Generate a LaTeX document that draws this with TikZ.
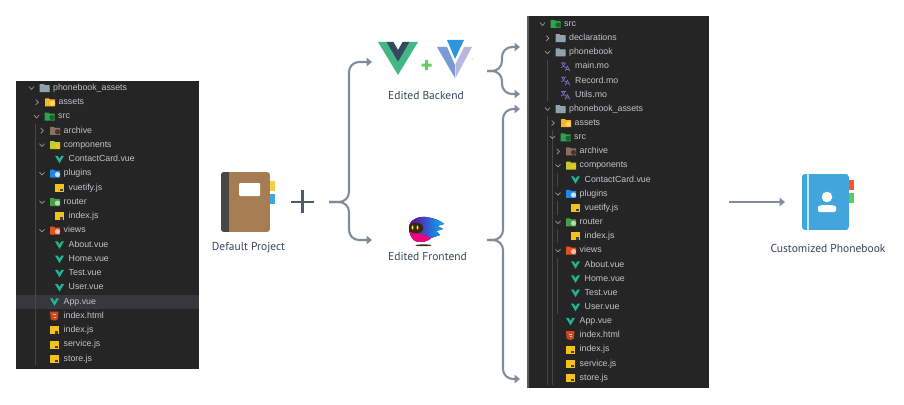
\documentclass[tikz,border=0pt]{standalone}
\usepackage{fontspec}
\usetikzlibrary{arrows.meta}
\newfontfamily\labelfont{PT Sans}
\newfontfamily\treefont{Liberation Sans}
\definecolor{panelbg}{HTML}{252526}
\definecolor{rowhl}{HTML}{37373D}
\definecolor{treetxt}{HTML}{C2C5C9}
\definecolor{guide}{HTML}{47474A}
\definecolor{flow}{HTML}{7F8C9B}
\definecolor{labeltxt}{HTML}{36465A}
\definecolor{vuev}{HTML}{1FB592}
\definecolor{vuegreen}{HTML}{41B883}
\definecolor{vuedark}{HTML}{35495E}
\definecolor{jsyellow}{HTML}{F5C21C}
\definecolor{greyfolder}{HTML}{8FA3AD}
\definecolor{bookbrown}{HTML}{A67C52}
\definecolor{bookblue}{HTML}{42A5DC}
\tikzset{
  treetext/.style={anchor=west,inner sep=0pt,text=treetxt,text height=6.5pt,text depth=2pt,font=\treefont\fontsize{8.8}{9}\selectfont},
  biglabel/.style={inner sep=0pt,text=labeltxt,font=\labelfont\fontsize{11.5}{12}\selectfont},
  flowline/.style={draw=flow,line width=2.1pt,rounded corners=10pt,-{Triangle[length=5.5pt,width=8.5pt]}},
  guideline/.style={draw=guide,line width=.6pt},
  chevline/.style={draw=gray!80,line width=.7pt}
}
% row icons, drawn relative to the left end of the row text
\newcommand{\foldershape}[2]{%
  \fill[#1] (-13.5,-4) -- (-9.5,-4) -- (-8.5,-3) -- (-3.5,-3) -- (-3.5,4) -- (-13.5,4) -- cycle;
  \fill[#2] (-6,1) circle (2.6pt);
}
\definecolor{fassets}{HTML}{F9B91A}
\definecolor{fsrc}{HTML}{2FA24C}
\definecolor{farchive}{HTML}{8D6E63}
\definecolor{fcomp}{HTML}{C0CA33}
\definecolor{fplugins}{HTML}{1E88E5}
\definecolor{frouter}{HTML}{43A047}
\definecolor{fviews}{HTML}{E6501E}
\newcommand{\treeiconplain}{\foldershape{greyfolder}{greyfolder}}
\newcommand{\treeiconassets}{\foldershape{fassets}{fassets!60!white}}
\newcommand{\treeiconsrc}{\foldershape{fsrc}{fsrc!60!black}}
\newcommand{\treeiconarchive}{\foldershape{farchive}{farchive!50!black}}
\newcommand{\treeiconcomp}{\foldershape{fcomp}{jsyellow}}
\newcommand{\treeiconplugins}{\foldershape{fplugins}{fplugins!25!white}}
\newcommand{\treeiconrouter}{\foldershape{frouter}{frouter!40!white}}
\newcommand{\treeiconviews}{\foldershape{fviews}{fviews!35!white}}
\newcommand{\treeiconvue}{\fill[vuev] (-13.5,-3.5) -- (-10.8,-3.5) -- (-9,-.5) -- (-7.2,-3.5) -- (-4.5,-3.5) -- (-9,4) -- cycle;}
\newcommand{\treeiconjs}{\fill[jsyellow] (-13.5,-4) rectangle (-4.5,4);\fill[black!75] (-9,1) rectangle (-8.2,3.2);\fill[black!75] (-7.4,1) rectangle (-5.6,3.2);}
\newcommand{\treeiconhtml}{\fill[fviews!90!black] (-13.5,-4.5) -- (-5,-4.5) -- (-5.8,3.2) -- (-9.2,4.5) -- (-12.7,3.2) -- cycle;\fill[white!70!red] (-11,-2) rectangle (-7.5,-1);\fill[white!70!red] (-10,.5) rectangle (-7.5,1.8);}
\newcommand{\treeiconmo}{\draw[blue!40!gray!80!white,line width=.7pt] (-14,-3.5) -- (-9,-3.5) (-11.8,-4.5) -- (-11.8,-3.5) (-13,-3.5) .. controls (-12.5,-.5) and (-11,.5) .. (-9,1) (-10,-3.5) .. controls (-10.5,-.5) and (-12,.5) .. (-14,1) (-9.8,4.5) -- (-7.6,-.5) -- (-5.2,4.5) (-9,2.8) -- (-6,2.8);}
\newcommand{\chevrono}{\draw[chevline] (-24,-1.3) -- (-21.5,1.3) -- (-19,-1.3);}
\newcommand{\chevronc}{\draw[chevline] (-22.8,-2.6) -- (-20.2,0) -- (-22.8,2.6);}
\newcommand{\chevronn}{}
\newcommand{\srcrows}{%
  564/src/o/src,
  569/plain/c/declarations,
  569/plain/o/phonebook,
  575/mo/n/main.mo,
  575/mo/n/Record.mo,
  575/mo/n/Utils.mo}
\newcommand{\assetrows}{%
  53/plain/o/phonebook\_assets,
  58.5/assets/c/assets,
  58/src/o/src,
  63.5/archive/c/archive,
  63.5/comp/o/components,
  68.5/vue/n/ContactCard.vue,
  63.5/plugins/o/plugins,
  68.5/js/n/vuetify.js,
  63.5/router/o/router,
  68.5/js/n/index.js,
  63.5/views/o/views,
  68.5/vue/n/About.vue,
  68.5/vue/n/Home.vue,
  68.5/vue/n/Test.vue,
  68.5/vue/n/User.vue,
  63.5/vue/n/App.vue,
  63.5/html/n/index.html,
  63.5/js/n/index.js,
  63.5/js/n/service.js,
  63.5/js/n/store.js}
\newcommand{\treerows}[5]{%
  \foreach \tx/\ic/\chev/\txt [count=\i from 0] in #2 {
    \pgfmathsetmacro{\ty}{#4+#5*\i}
    \pgfmathsetmacro{\rx}{\tx+#3}
    \node[treetext] (#1\i) at (\rx,\ty) {\txt};
    \begin{scope}[shift={(\rx,\ty)}]
      \csname treeicon\ic\endcsname
      \csname chevron\chev\endcsname
    \end{scope}
  }}
\begin{document}
\begin{tikzpicture}[x=1pt,y=-1pt]
\useasboundingbox (0,0) rectangle (904,404);
% left tree
\fill[panelbg] (16,81) rectangle (199,369);
\fill[rowhl] (16,295) rectangle (199,309);
\draw[guideline] (35.7,124) -- (35.7,365);
\treerows{left}{\assetrows}{0}{88}{14.26}
% right tree
\fill[panelbg] (527,16) rectangle (709,388);
\fill[gray!60!panelbg] (527,16) rectangle (528.5,388);
\draw[guideline] (547,60) -- (547,101);
\draw[guideline] (547,116) -- (547,385);
\draw[guideline] (552.5,130) -- (552.5,385);
\draw[guideline] (557,173) -- (557,187) (557,201) -- (557,215) (557,229) -- (557,243) (557,258) -- (557,314);
\treerows{top}{\srcrows}{0}{24}{14.2}
\treerows{right}{\assetrows}{516}{109}{14.16}
% default project
\begin{scope}
\clip[rounded corners=3pt] (221,172) rectangle (270,232);
\fill[bookbrown] (221,172) rectangle (270,232);
\fill[black!72] (221,172) rectangle (229,232);
\end{scope}
\fill[white,rounded corners=1pt] (239,183) rectangle (260,196);
\fill[jsyellow!80!white] (270,181) rectangle (275,191);
\fill[bookblue] (270,194) rectangle (275,204);
\node[biglabel] (defaultlabel) at (248.5,248) {Default Project};
\draw[vuedark!90!white,line width=2.4pt] (291,202) -- (314,202) (302.5,190) -- (302.5,213);
% vue + vuetify
\fill[vuegreen] (378,42) -- (386.5,42) -- (398,62) -- (409.5,42) -- (418,42) -- (398,75) -- cycle;
\fill[vuedark] (386.5,42) -- (393.5,42) -- (398,50) -- (402.5,42) -- (409.5,42) -- (398,62) -- cycle;
\fill[green!50!gray!80] (425.2,60) rectangle (428.2,70) (421.7,63.5) rectangle (431.7,66.5);
\fill[cyan!45!blue!55!white] (437,47) -- (447,47) -- (455,65) -- (455,78) -- cycle;
\fill[cyan!20!blue!28!white] (472,47) -- (464,47) -- (455.5,64) -- (455.5,78) -- cycle;
\fill[cyan!70!blue!85!white] (447,40) -- (464,40) -- (455,59) -- cycle;
\fill[gray] (472,59) circle (.5pt);
\node[biglabel] (backendlabel) at (426,95) {Edited Backend};
% kraken
\fill[left color=violet!85!blue,right color=cyan!70!blue] (409,228) .. controls (409,220) and (418,216) .. (426,217) .. controls (433,218) and (440,220) .. (444,224) -- (437,226) -- (443,229) -- (436,231) -- (440,235) -- (431,238) .. controls (428,242) and (420,243) .. (415,241) .. controls (411,238) and (409,233) .. (409,228) -- cycle;
\fill[magenta!85!red] (410,232) .. controls (418,233) and (424,234) .. (431,238) .. controls (428,242) and (420,243) .. (415,241) .. controls (412,239) and (411,235) .. (410,232) -- cycle;
\fill[black!70!brown] (416,228) circle [x radius=7.2pt,y radius=5.4pt];
\fill[yellow] (412.5,227.5) circle [x radius=.9pt,y radius=2.2pt] (417.5,227.5) circle [x radius=.9pt,y radius=2.2pt];
\fill[black!70!brown] (423.5,245.3) ellipse [x radius=8pt,y radius=.9pt];
\node[biglabel] (frontendlabel) at (427.5,256) {Edited Frontend};
% customized phonebook
\begin{scope}
\clip[rounded corners=3pt] (802,174) rectangle (849,230);
\fill[bookblue] (802,174) rectangle (849,230);
\fill[cyan!25!white] (807,174) rectangle (808.6,230);
\end{scope}
\fill[white] (827,197) circle (5.3pt);
\fill[white,rounded corners=2pt] (818,212) -- (818,209) .. controls (818,206) and (821,205) .. (827,205) .. controls (833,205) and (836,206) .. (836,209) -- (836,212) -- cycle;
\fill[red!60!orange!85!white] (849,180) rectangle (854,190);
\fill[green!55!gray!85] (849,193) rectangle (854,203);
\node[biglabel] (phonebooklabel) at (828,248) {Customized Phonebook};
% connectors
\coordinate (plusout) at (329,202);
\coordinate (plusstem) at (349,202);
\coordinate (backin) at (372,62);
\coordinate (frontin) at (372,240);
\coordinate (backout) at (487,71);
\coordinate (backstem) at (502,71);
\coordinate (backsrc) at (520,47);
\coordinate (backutils) at (520,94);
\coordinate (frontout) at (487,240);
\coordinate (frontstem) at (503,240);
\coordinate (frontassets) at (520,109);
\coordinate (frontstore) at (520,379);
\coordinate (doneout) at (729,202);
\coordinate (donein) at (785,202);
\draw[flowline] (plusout) -- (plusstem) |- (backin);
\draw[flowline] (plusout) -- (plusstem) |- (frontin);
\draw[flowline] (backout) -- (backstem) |- (backsrc);
\draw[flowline] (backout) -- (backstem) |- (backutils);
\draw[flowline] (frontout) -- (frontstem) |- (frontassets);
\draw[flowline] (frontout) -- (frontstem) |- (frontstore);
\draw[flowline] (doneout) -- (donein);
\end{tikzpicture}
\end{document}
